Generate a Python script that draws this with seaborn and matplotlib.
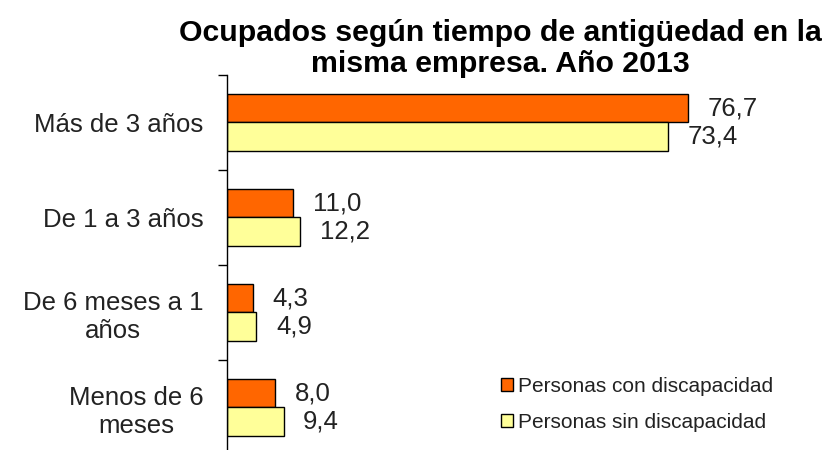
import numpy as np
import pandas as pd
import matplotlib as mpl
mpl.use('Agg')
import matplotlib.pyplot as plt
import seaborn as sns

categories = ['Más de 3 años', 'De 1 a 3 años', 'De 6 meses a 1\naños', 'Menos de 6\nmeses']
series = ['Personas con discapacidad', 'Personas sin discapacidad']
con_disc = [76.7, 11.0, 4.3, 8.0]
sin_disc = [73.4, 12.2, 4.9, 9.4]
palette = ['#FF6600', '#FFFF99']

df = pd.DataFrame({
    'cat': categories * 2,
    'serie': [series[0]] * 4 + [series[1]] * 4,
    'valor': con_disc + sin_disc,
})

sns.set_style('white')
plt.rcParams['font.family'] = ['Liberation Sans', 'DejaVu Sans']
txt_col = '#222222'

fig = plt.figure(figsize=(8.28, 4.5), dpi=100)
ax = fig.add_axes([0.2742, -0.011, 0.7258, 0.8444])

sns.barplot(data=df, y='cat', x='valor', hue='serie', orient='h',
            palette=palette, saturation=1, width=0.6, gap=0, edgecolor='black',
            linewidth=1.0, ax=ax, legend=True)

for cont in ax.containers:
    ax.bar_label(cont, labels=[f'{v:.1f}'.replace('.', ',') for v in cont.datavalues],
                 padding=14, fontsize=18.5, color=txt_col)

ax.set_xlim(0, 100)
ax.set_ylim(3.5, -0.5)
ax.set_xlabel('')
ax.set_ylabel('')
ax.set_xticks([])
for s in ['top', 'right', 'bottom']:
    ax.spines[s].set_visible(False)
ax.spines['left'].set_color('black')
ax.spines['left'].set_linewidth(1.0)

ax.set_yticks(range(len(categories)))
ax.set_yticklabels(categories, fontsize=18.5, color=txt_col, ha='right', multialignment='center')
ax.tick_params(axis='y', which='major', length=0, pad=17)
ax.set_yticks([-0.5, 0.5, 1.5, 2.5], minor=True)
ax.tick_params(axis='y', which='minor', length=6.5, width=1, color='black', left=True)

ax.legend(loc='upper left', bbox_to_anchor=(0.592, 0.185), bbox_transform=fig.transFigure,
          frameon=False, fontsize=15, handlelength=0.6, handleheight=0.6,
          handletextpad=0.25, labelspacing=0.8, borderpad=0, labelcolor=txt_col)

fig.text(500 / 828, 0.958, 'Ocupados según tiempo de antigüedad en la\nmisma empresa. Año 2013',
         ha='center', va='top', fontsize=21.8, fontweight='bold', color='black', linespacing=1.15)

fig.savefig('out.png', dpi=100)
